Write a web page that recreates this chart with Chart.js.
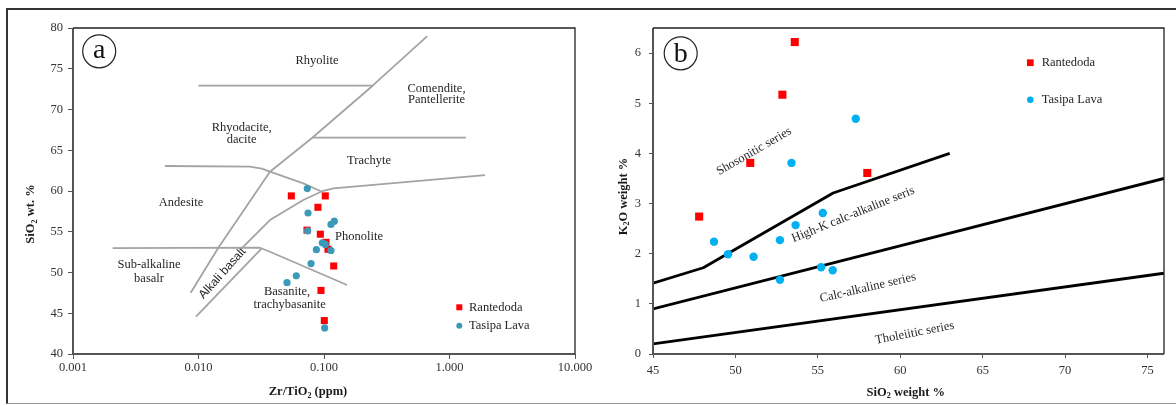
<!DOCTYPE html>
<html><head><meta charset="utf-8">
<script src="https://cdn.jsdelivr.net/npm/chart.js@4.4.1/dist/chart.umd.min.js"></script>
<style>
html,body{margin:0;padding:0;background:#fff;}
body{width:1176px;height:406px;position:relative;overflow:hidden;}
#frame{position:absolute;left:6px;top:8px;width:1190px;height:393px;border-top:2px solid #333;border-left:2px solid #333;border-bottom:1px solid #9a9a9a;}
#cA{position:absolute;left:0;top:0;}
#cB{position:absolute;left:590px;top:0;}
</style></head>
<body>
<div id="frame"></div>
<canvas id="cA" width="600" height="406"></canvas>
<canvas id="cB" width="586" height="406"></canvas>
<script>
// ================= Panel (a) : Zr/TiO2 vs SiO2 =================
const xTickValuesA = [0.001, 0.01, 0.1, 1, 10];
const xTickLabelsA = ['0.001', '0.010', '0.100', '1.000', '10.000'];
const yTickValuesA = [40, 45, 50, 55, 60, 65, 70, 75, 80];
const yTickLabelsA = ['40', '45', '50', '55', '60', '65', '70', '75', '80'];

const rantedodaZrTiO2 = [0.0549, 0.1024, 0.0895, 0.0732, 0.0935, 0.1037, 0.1076, 0.1195, 0.0946, 0.1006];
const rantedodaSiO2a  = [59.4, 59.4, 58.0, 55.2, 54.7, 53.7, 52.85, 50.8, 47.8, 44.1];
const tasipaZrTiO2    = [0.0736, 0.0746, 0.1137, 0.1208, 0.0741, 0.097, 0.1024, 0.0869, 0.1137, 0.0788, 0.0601, 0.0507, 0.1012];
const tasipaSiO2a     = [60.3, 57.3, 55.9, 56.3, 55.1, 53.65, 53.45, 52.8, 52.7, 51.1, 49.6, 48.75, 43.2];

// classification boundaries (x = Zr/TiO2, y = SiO2)
const bRhyoliteX = [0.01, 0.244];           const bRhyoliteY = [72.92, 72.92];
const bDiagonalX = [0.665, 0.244, 0.0807, 0.0371, 0.01439, 0.00867];
const bDiagonalY = [79.0, 72.92, 66.54, 62.37, 53.04, 47.52];
const bComenditeX = [0.0807, 1.35];         const bComenditeY = [66.54, 66.54];
const bAndesiteX = [0.0054, 0.02572, 0.032, 0.0371, 0.0684, 0.0955];
const bAndesiteY = [63.07, 62.98, 62.75, 62.37, 60.94, 59.94];
const bTrachyteX = [0.0955, 0.1186, 1.92];  const bTrachyteY = [59.94, 60.33, 61.96];
const bPhonoliteX = [0.02208, 0.0371, 0.0684, 0.0955];
const bPhonoliteY = [52.97, 56.44, 58.9, 59.94];
const bBasaltX = [0.00207, 0.0309, 0.0371, 0.1526];
const bBasaltY = [53.0, 53.04, 52.55, 48.47];
const bAlkaliX = [0.00955, 0.0319];         const bAlkaliY = [44.58, 52.97];

// ================= Panel (b) : SiO2 vs K2O =================
const xTickValuesB = [45, 50, 55, 60, 65, 70, 75];
const xTickLabelsB = ['45', '50', '55', '60', '65', '70', '75'];
const yTickValuesB = [0, 1, 2, 3, 4, 5, 6];
const yTickLabelsB = ['0', '1', '2', '3', '4', '5', '6'];

const rantedodaSiO2b = [53.6, 52.85, 50.9, 58.0, 47.8];
const rantedodaK2O   = [6.22, 5.17, 3.81, 3.61, 2.74];
const tasipaSiO2b    = [57.3, 53.4, 48.7, 49.55, 51.1, 52.7, 53.65, 55.3, 52.7, 55.2, 55.9];
const tasipaK2O      = [4.69, 3.81, 2.24, 1.99, 1.94, 2.27, 2.57, 2.81, 1.48, 1.73, 1.67];

const bShoshoX = [45, 48.05, 55.93, 63.0];  const bShoshoY = [1.41, 1.72, 3.21, 4.0];
const bHighKX = [45, 76];                   const bHighKY = [0.9, 3.5];
const bTholX = [45, 76];                    const bTholY = [0.2, 1.61];

// ================= helpers =================
const SERIF = '"Liberation Serif", "Times New Roman", serif';
const SANS = '"Liberation Sans", Arial, sans-serif';

function pts(xs, ys) { return xs.map((x, i) => ({ x: x, y: ys[i] })); }
function lineDs(xs, ys, color, width) {
  return { data: pts(xs, ys), showLine: true, pointRadius: 0, pointHoverRadius: 0,
    borderColor: color, backgroundColor: color, borderWidth: width, fill: false,
    tension: 0, order: 3, borderJoinStyle: 'round' };
}
function richText(ctx, str, x, y, size, bold, align) {
  const parts = [];
  str.split(/(_\d)/).forEach(s => { if (!s) return; if (s[0] === '_') parts.push({ t: s.slice(1), sub: true }); else parts.push({ t: s, sub: false }); });
  const w = bold ? 'bold ' : '';
  const fMain = w + size + 'px ' + SERIF;
  const fSub = w + (size * 0.65).toFixed(1) + 'px ' + SERIF;
  let total = 0;
  parts.forEach(p => { ctx.font = p.sub ? fSub : fMain; p.w = ctx.measureText(p.t).width; total += p.w; });
  let cx = align === 'center' ? x - total / 2 : x;
  ctx.textAlign = 'left'; ctx.textBaseline = 'alphabetic';
  parts.forEach(p => { ctx.font = p.sub ? fSub : fMain; ctx.fillText(p.t, cx, y + (p.sub ? size * 0.22 : 0)); cx += p.w; });
}

function decor(cfg) {
  return {
    id: 'decor' + cfg.id,
    beforeDatasetsDraw(chart) {
      const ctx = chart.ctx, xs = chart.scales.x, ys = chart.scales.y;
      ctx.save();
      ctx.fillStyle = '#262626';
      cfg.labels.forEach(l => {
        const px = xs.getPixelForValue(l.x), py = ys.getPixelForValue(l.y);
        ctx.save();
        ctx.translate(px, py);
        if (l.rot) ctx.rotate(l.rot * Math.PI / 180);
        ctx.font = (l.sans ? '12px ' + SANS : '12.5px ' + SERIF);
        ctx.textAlign = 'center'; ctx.textBaseline = 'middle';
        ctx.fillText(l.text, 0, 0);
        ctx.restore();
      });
      ctx.restore();
    },
    afterDatasetsDraw(chart) {
      const ctx = chart.ctx, a = chart.chartArea;
      ctx.save();
      // plot frame
      ctx.lineWidth = 2; ctx.strokeStyle = '#555';
      ctx.beginPath(); ctx.moveTo(a.left, a.top); ctx.lineTo(a.left, a.bottom); ctx.lineTo(a.right, a.bottom); ctx.stroke();
      ctx.lineWidth = 1.3; ctx.strokeStyle = '#222';
      ctx.beginPath(); ctx.moveTo(a.left, a.top); ctx.lineTo(a.right, a.top); ctx.lineTo(a.right, a.bottom); ctx.stroke();
      // panel letter in circle
      const c = cfg.letter;
      ctx.lineWidth = 1.2; ctx.strokeStyle = '#222';
      ctx.beginPath(); ctx.arc(a.left + c.dx, a.top + c.dy, 16.5, 0, Math.PI * 2); ctx.stroke();
      ctx.fillStyle = '#111'; ctx.font = '28px ' + SERIF; ctx.textAlign = 'center'; ctx.textBaseline = 'alphabetic';
      ctx.fillText(c.text, a.left + c.dx, a.top + c.dy + c.base);
      // legend
      const L = cfg.legend;
      ctx.fillStyle = cfg.colors[0];
      ctx.fillRect(a.left + L.dx - L.sq / 2, a.top + L.dy1 - L.sq / 2, L.sq, L.sq);
      ctx.fillStyle = cfg.colors[1];
      ctx.beginPath(); ctx.arc(a.left + L.dx, a.top + L.dy2, L.r, 0, Math.PI * 2); ctx.fill();
      ctx.fillStyle = '#262626'; ctx.font = '12.5px ' + SERIF; ctx.textAlign = 'left'; ctx.textBaseline = 'middle';
      ctx.fillText(cfg.series[0], a.left + L.tx, a.top + L.dy1);
      ctx.fillText(cfg.series[1], a.left + L.tx, a.top + L.dy2);
      // axis titles
      ctx.fillStyle = '#1a1a1a';
      richText(ctx, cfg.xTitle, cfg.xTitlePos[0], cfg.xTitlePos[1], 12.5, true, 'center');
      ctx.save();
      ctx.translate(cfg.yTitlePos[0], cfg.yTitlePos[1]);
      ctx.rotate(-Math.PI / 2);
      richText(ctx, cfg.yTitle, 0, 0, 12.5, true, 'center');
      ctx.restore();
      ctx.restore();
    }
  };
}

function axis(type, min, max, tickVals, tickLabels, size, tickLen, pad) {
  return {
    type: type, min: min, max: max,
    afterBuildTicks: s => { s.ticks = tickVals.map(v => ({ value: v })); },
    afterFit: s => { if (s.isHorizontal()) s.height = size; else s.width = size; },
    ticks: { callback: (v, i) => tickLabels[i], autoSkip: false, maxRotation: 0, minRotation: 0,
      font: { family: SERIF, size: 12.5 }, color: '#333', padding: pad },
    grid: { display: true, drawOnChartArea: false, drawTicks: true, tickLength: tickLen, color: '#555', lineWidth: 1 },
    border: { display: false }
  };
}

const baseOpts = { responsive: false, animation: false, devicePixelRatio: 1,
  plugins: { legend: { display: false }, tooltip: { enabled: false } }, events: [] };

// ================= Chart (a) =================
const labelsA = [
  { text: 'Rhyolite', x: 0.0879, y: 75.95 },
  { text: 'Comendite,', x: 0.788, y: 72.6 },
  { text: 'Pantellerite', x: 0.788, y: 71.17 },
  { text: 'Rhyodacite,', x: 0.02208, y: 67.77 },
  { text: 'dacite', x: 0.02208, y: 66.34 },
  { text: 'Trachyte', x: 0.2284, y: 63.68 },
  { text: 'Andesite', x: 0.00726, y: 58.61 },
  { text: 'Phonolite', x: 0.190, y: 54.39 },
  { text: 'Sub-alkaline', x: 0.004036, y: 50.92 },
  { text: 'basalr', x: 0.004036, y: 49.2 },
  { text: 'Alkali basalt', x: 0.01552, y: 49.9, rot: -48, sans: true },
  { text: 'Basanite,', x: 0.0507, y: 47.65 },
  { text: 'trachybasanite', x: 0.0533, y: 46.0 }
];
const grayA = '#a3a3a3';
new Chart(document.getElementById('cA'), {
  type: 'scatter',
  data: { datasets: [
    lineDs(bRhyoliteX, bRhyoliteY, grayA, 1.8),
    lineDs(bDiagonalX, bDiagonalY, grayA, 1.8),
    lineDs(bComenditeX, bComenditeY, grayA, 1.8),
    lineDs(bAndesiteX, bAndesiteY, grayA, 1.8),
    lineDs(bTrachyteX, bTrachyteY, grayA, 1.8),
    lineDs(bPhonoliteX, bPhonoliteY, grayA, 1.8),
    lineDs(bBasaltX, bBasaltY, grayA, 1.8),
    lineDs(bAlkaliX, bAlkaliY, grayA, 1.8),
    { label: 'Rantedoda', data: pts(rantedodaZrTiO2, rantedodaSiO2a), pointStyle: 'rect', pointRadius: 5,
      backgroundColor: '#ff0000', borderWidth: 0, pointBorderWidth: 0, order: 2 },
    { label: 'Tasipa Lava', data: pts(tasipaZrTiO2, tasipaSiO2a), pointStyle: 'circle', pointRadius: 3.6,
      backgroundColor: '#3a9ab8', borderWidth: 0, pointBorderWidth: 0, order: 1 }
  ]},
  options: Object.assign({}, baseOpts, {
    layout: { padding: { top: 28, right: 25, bottom: 0, left: 0 } },
    scales: {
      x: axis('logarithmic', 0.001, 10, xTickValuesA, xTickLabelsA, 52, 5, 1),
      y: axis('linear', 40, 80, yTickValuesA, yTickLabelsA, 73, 5, 5)
    }
  }),
  plugins: [decor({ id: 'A', labels: labelsA,
    letter: { text: 'a', dx: 26.2, dy: 23.3, base: 7 },
    legend: { dx: 386.3, dy1: 279.3, dy2: 297.7, tx: 396, sq: 6, r: 3 },
    colors: ['#ff0000', '#3a9ab8'], series: ['Rantedoda', 'Tasipa Lava'],
    xTitle: 'Zr/TiO_2 (ppm)', xTitlePos: [308, 395],
    yTitle: 'SiO_2 wt. %', yTitlePos: [34.3, 214] })]
});

// ================= Chart (b) =================
const labelsB = [
  { text: 'Shosonitic series', x: 51.13, y: 4.04, rot: -30 },
  { text: 'High-K calc-alkaline seris', x: 57.14, y: 2.78, rot: -22 },
  { text: 'Calc-alkaline series', x: 58.03, y: 1.32, rot: -13 },
  { text: 'Tholeiitic series', x: 60.88, y: 0.42, rot: -11 }
];
new Chart(document.getElementById('cB'), {
  type: 'scatter',
  data: { datasets: [
    lineDs(bShoshoX, bShoshoY, '#000', 2.8),
    lineDs(bHighKX, bHighKY, '#000', 2.8),
    lineDs(bTholX, bTholY, '#000', 2.8),
    { label: 'Rantedoda', data: pts(rantedodaSiO2b, rantedodaK2O), pointStyle: 'rect', pointRadius: 5.7,
      backgroundColor: '#ff0000', borderWidth: 0, pointBorderWidth: 0, order: 2 },
    { label: 'Tasipa Lava', data: pts(tasipaSiO2b, tasipaK2O), pointStyle: 'circle', pointRadius: 4.2,
      backgroundColor: '#00b0f0', borderWidth: 0, pointBorderWidth: 0, order: 1 }
  ]},
  options: Object.assign({}, baseOpts, {
    layout: { padding: { top: 28, right: 12, bottom: 0, left: 0 } },
    scales: {
      x: axis('linear', 45, 76, xTickValuesB, xTickLabelsB, 52, 4, 5),
      y: axis('linear', 0, 6.5, yTickValuesB, yTickLabelsB, 63, 4, 8)
    }
  }),
  plugins: [decor({ id: 'B', labels: labelsB,
    letter: { text: 'b', dx: 27.7, dy: 25.3, base: 9 },
    legend: { dx: 377.3, dy1: 34.7, dy2: 71.8, tx: 388.7, sq: 6.7, r: 3.3 },
    colors: ['#ff0000', '#00b0f0'], series: ['Rantedoda', 'Tasipa Lava'],
    xTitle: 'SiO_2 weight %', xTitlePos: [315.8, 395.5],
    yTitle: 'K_2O weight %', yTitlePos: [36.7, 196.5] })]
});
</script>
</body></html>
